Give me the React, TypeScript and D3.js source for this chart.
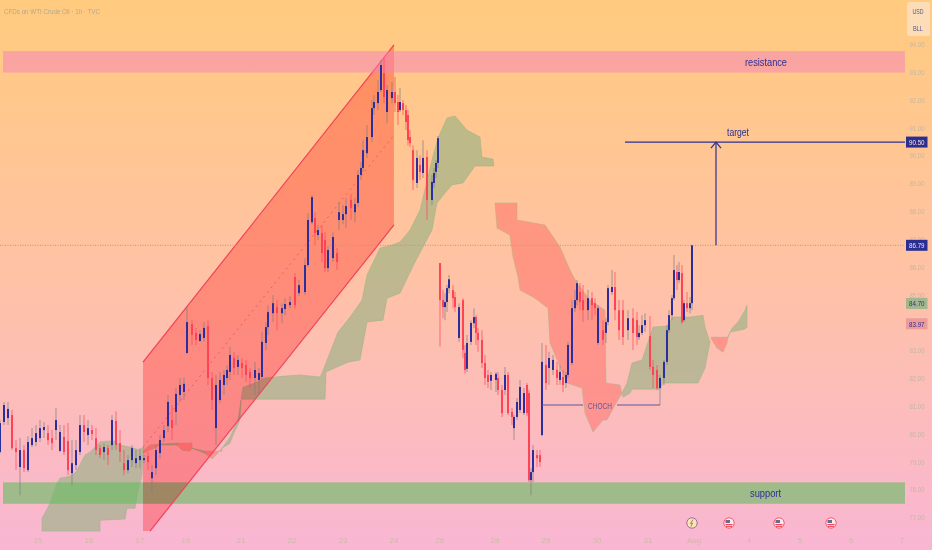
// App.tsx - WTI crude 1h chart with channel, cloud and zones
import React from 'react';
import * as d3 from 'd3';

const width = 932;
const height = 550;

// bar position along the time axis
const barTimes = [
  0, 2, 4, 6, 8, 10, 12, 14, 16, 18,
  20, 22, 24, 26, 28, 30, 32, 34, 36, 38,
  40, 42, 44, 46, 48, 50, 52, 54, 56, 58,
  60, 62, 64, 66, 68, 70, 72, 74, 76, 78,
  80, 82, 84, 86, 88, 90, 92, 93.5, 96, 98,
  100, 102, 104, 106, 108, 110, 112, 113.5, 115, 117,
  119, 121, 123, 125, 127.5, 129.5, 131, 133, 134, 136.5,
  138.5, 141, 142.5, 145, 147.5, 149.5, 152.5, 154, 156, 157.5,
  159, 161, 162.5, 164, 166.5, 168.5, 169.5, 171.5, 173, 175.5,
  177.5, 179, 180.5, 181.5, 183.5, 186, 187, 189, 190.5, 192,
  193.5, 196, 197.5, 199, 200, 201.5, 203, 204, 205, 206.5,
  208.5, 210, 211.5, 213.5, 216, 217, 218, 219, 220, 221.5,
  222.5, 223.5, 224.5, 226.5, 227.5, 229.5, 231.5, 232.5, 233.5, 235.5,
  237, 238, 239, 241, 242.5, 244, 245.5, 248, 249, 251,
  252.5, 254, 256, 257, 258.5, 260, 262, 263.5, 264.5, 265.5,
  266.5, 268.5, 270, 271, 273, 274.5, 276.5, 278.5, 280, 281.5,
  283, 284, 286, 287.5, 288.5, 290, 291.5, 294, 296, 297.5,
  299, 301.5, 303, 304, 306, 307.5, 309.5, 311.5, 314, 316.5,
  318.5, 319.5, 321, 322.5, 325, 326.5, 328.5, 330, 332, 333.5,
  334.5, 336, 337, 338.5, 339.5, 341, 342, 343.5, 345, 346,
];

const opens = [
  79.36, 80.44, 80.58, 80.69, 79.5, 78.82, 79.43, 78.71, 79.61, 79.72,
  79.86, 80.15, 80.04, 79.86, 80.15, 79.4, 79.9, 79.75, 78.6, 78.89,
  79.36, 80.33, 79.97, 80.15, 79.86, 79.5, 79.36, 79.5, 79.61, 80.48,
  79.68, 78.96, 78.71, 79.07, 78.96, 79.07, 79.07, 79.22, 78.42, 78.78,
  79.32, 79.86, 80.29, 80.51, 80.8, 81.41, 81.52, 82.92, 83.96, 83.64,
  83.35, 83.46, 83.89, 82.02, 80.22, 81.23, 81.77, 82.02, 82.24, 82.74,
  82.42, 82.56, 82.49, 82.24, 82.02, 81.95, 82.06, 83.28, 83.85, 84.35,
  84.57, 84.35, 84.5, 84.64, 85.65, 85.07, 85.11, 86.08, 87.62, 87.77,
  87.16, 87.23, 86.98, 85.97, 86.33, 86.51, 87.7, 87.7, 87.91, 88.42,
  87.98, 88.31, 89.32, 89.57, 90.1, 90.68, 91.72, 91.9, 92.37, 92.98,
  91.58, 92.08, 92.3, 91.94, 91.65, 91.9, 91.65, 91.47, 90.68, 90.21,
  89.03, 89.68, 89.39, 89.96, 88.42, 89.03, 89.43, 89.75, 86.15, 84.82,
  84.57, 84.75, 85.25, 85.18, 84.93, 83.46, 84.82, 82.92, 82.35, 83.32,
  83.99, 84.21, 83.64, 83.39, 82.56, 82.13, 81.92, 81.95, 82.02, 81.59,
  81.59, 82.13, 80.8, 80.22, 80.62, 80.87, 80.76, 81.77, 81.48, 78.35,
  78.64, 79.25, 79.25, 79.97, 82.49, 82.38, 82.31, 82.31, 81.95, 82.06,
  81.84, 82.13, 82.56, 84.53, 84.82, 85.11, 84.82, 84.46, 84.89, 84.71,
  83.28, 83.74, 83.64, 84.03, 85.11, 85.29, 84.46, 84.46, 83.74, 84.17,
  84.1, 83.49, 83.64, 83.92, 83.53, 82.42, 82.31, 81.66, 82.02, 82.6,
  83.74, 84.28, 84.89, 85.83, 85.54, 85.79, 84.1, 84.71, 84.53, 84.71,
];

const closes = [
  80.4, 81.05, 80.91, 79.5, 79.36, 79.43, 78.78, 79.72, 79.86, 80.04,
  80.22, 80.26, 79.79, 79.68, 80.51, 80.08, 79.36, 78.71, 78.96, 79.43,
  80.33, 80.08, 80.22, 80.01, 79.43, 79.25, 79.54, 79.25, 80.51, 79.61,
  79.36, 78.71, 79.07, 79.5, 79.14, 79.22, 79.14, 79.0, 78.64, 79.43,
  79.79, 80.15, 81.16, 80.22, 81.45, 81.77, 81.81, 84.03, 83.57, 83.39,
  83.6, 83.82, 82.02, 81.23, 81.77, 81.95, 82.13, 82.31, 82.85, 82.38,
  82.67, 82.38, 82.13, 82.02, 82.31, 82.2, 83.32, 83.85, 84.39, 84.71,
  84.35, 84.53, 84.68, 84.75, 84.64, 85.36, 86.08, 87.7, 88.52, 87.23,
  87.34, 86.51, 85.97, 86.62, 87.09, 86.19, 87.98, 87.91, 88.2, 88.13,
  88.27, 89.32, 89.57, 90.21, 90.68, 91.72, 91.94, 92.3, 93.27, 92.12,
  92.37, 92.3, 91.9, 91.58, 91.94, 91.65, 91.22, 90.57, 90.46, 89.14,
  89.93, 89.43, 89.93, 88.42, 89.07, 89.39, 89.75, 90.64, 84.82, 84.57,
  84.75, 85.25, 85.57, 84.89, 84.57, 84.57, 83.03, 82.31, 83.28, 84.0,
  84.21, 83.64, 83.39, 82.56, 82.02, 81.88, 82.13, 82.17, 81.59, 80.76,
  82.13, 80.76, 80.62, 80.62, 81.16, 81.7, 81.48, 80.76, 78.35, 78.64,
  79.43, 79.14, 79.0, 82.6, 81.84, 82.74, 82.67, 82.02, 82.24, 81.77,
  82.13, 83.21, 84.53, 84.82, 85.43, 84.75, 84.46, 84.89, 84.64, 84.53,
  84.53, 83.39, 84.03, 85.25, 85.29, 84.46, 83.74, 83.49, 84.17, 83.64,
  83.49, 83.64, 83.92, 84.1, 82.42, 82.13, 81.66, 82.02, 82.6, 83.74,
  84.28, 84.89, 85.9, 85.54, 85.83, 84.03, 84.71, 84.53, 84.71, 86.79,
];

const highs = [
  80.51, 81.16, 81.16, 80.87, 79.79, 79.86, 79.61, 79.93, 80.22, 80.33,
  80.51, 80.44, 80.33, 80.15, 80.94, 80.33, 80.33, 80.4, 79.79, 79.79,
  80.69, 80.69, 80.51, 80.33, 80.22, 79.61, 79.68, 79.61, 80.69, 80.83,
  80.15, 79.43, 79.25, 79.61, 79.43, 79.5, 79.25, 79.36, 78.89, 79.61,
  79.97, 80.33, 81.41, 81.05, 81.66, 82.02, 82.02, 84.61, 84.1, 83.82,
  83.74, 84.03, 84.1, 82.24, 82.13, 82.24, 82.31, 82.49, 83.14, 82.96,
  82.85, 82.74, 82.67, 82.38, 82.6, 82.38, 83.67, 84.03, 84.64, 85.0,
  84.82, 84.71, 84.89, 84.96, 85.79, 85.54, 86.33, 87.95, 88.6, 87.98,
  87.52, 87.52, 87.26, 86.76, 87.26, 86.69, 88.35, 88.24, 88.49, 88.63,
  88.49, 89.5, 89.78, 90.57, 91.11, 92.01, 92.19, 92.73, 93.45, 93.52,
  92.55, 92.66, 92.84, 92.19, 92.44, 92.01, 91.83, 91.65, 90.93, 90.39,
  90.21, 90.03, 90.57, 90.21, 89.32, 89.57, 89.86, 90.72, 86.15, 85.18,
  85.07, 85.36, 85.72, 85.36, 85.11, 84.71, 84.89, 83.21, 83.57, 84.1,
  84.53, 84.28, 83.82, 83.74, 82.85, 82.31, 82.24, 82.24, 82.24, 81.77,
  82.42, 82.24, 80.94, 80.69, 81.3, 81.95, 81.66, 81.84, 81.59, 78.78,
  79.61, 79.43, 79.43, 83.28, 83.21, 82.96, 82.85, 82.6, 82.49, 82.31,
  82.24, 83.32, 84.82, 85.18, 85.54, 85.43, 85.36, 85.18, 85.11, 84.89,
  84.64, 84.1, 84.17, 85.36, 85.9, 85.83, 84.82, 84.82, 84.46, 84.53,
  84.39, 83.92, 84.28, 84.35, 84.25, 82.67, 82.49, 82.13, 82.67, 83.92,
  84.46, 85.0, 86.44, 86.08, 86.19, 86.08, 84.82, 85.11, 84.93, 86.79,
];

const lows = [
  79.32, 80.33, 80.33, 79.43, 78.71, 77.81, 78.64, 78.64, 79.54, 79.57,
  79.72, 79.86, 79.61, 79.43, 79.79, 79.36, 79.25, 78.53, 78.17, 78.71,
  79.25, 79.72, 79.61, 79.79, 79.25, 79.14, 79.07, 78.89, 79.43, 79.43,
  79.0, 78.53, 78.6, 78.82, 78.78, 78.78, 78.96, 78.71, 77.88, 78.53,
  79.14, 79.72, 80.08, 79.79, 80.33, 81.16, 81.23, 82.88, 83.21, 83.21,
  83.32, 83.32, 81.77, 80.87, 79.61, 81.12, 81.41, 81.77, 81.95, 82.13,
  82.13, 82.02, 81.88, 81.66, 81.41, 81.41, 81.95, 83.03, 83.57, 84.03,
  83.74, 83.99, 84.28, 84.53, 84.53, 84.96, 85.0, 86.01, 87.55, 86.8,
  86.98, 86.19, 85.83, 85.83, 86.19, 85.9, 87.34, 87.55, 87.41, 87.7,
  87.62, 88.17, 89.14, 89.43, 89.93, 90.5, 91.47, 91.65, 92.3, 91.9,
  91.18, 91.9, 91.58, 91.11, 91.58, 91.47, 90.93, 90.39, 90.32, 88.78,
  88.85, 89.14, 89.21, 87.7, 88.24, 88.85, 89.21, 89.57, 83.14, 84.17,
  84.1, 84.39, 85.07, 84.53, 84.39, 83.32, 82.74, 82.17, 82.24, 83.21,
  83.82, 83.21, 82.96, 82.38, 81.77, 81.66, 81.59, 81.52, 81.41, 80.62,
  81.41, 80.69, 80.33, 79.79, 80.51, 80.76, 80.69, 80.65, 78.28, 77.81,
  78.28, 78.82, 78.82, 79.93, 81.59, 81.77, 82.13, 81.77, 81.77, 81.52,
  81.66, 82.02, 82.49, 84.39, 84.64, 84.46, 84.03, 84.1, 84.1, 84.28,
  83.21, 83.21, 83.28, 83.92, 85.0, 84.1, 83.39, 83.21, 83.39, 83.03,
  83.21, 83.39, 83.57, 83.67, 82.31, 81.66, 81.59, 81.05, 81.77, 82.49,
  83.64, 84.1, 84.82, 85.18, 85.43, 83.96, 84.03, 84.39, 84.35, 84.46,
];

// ichimoku cloud pieces, [time, price]
const greenLeftTop = [[21, 76.97], [25, 77.52], [28.5, 78.24], [30, 78.42], [35, 78.49], [38, 78.64], [42.5, 79.25], [45, 79.36], [50, 79.72], [52.5, 79.75], [57.5, 79.75], [60, 79.61], [65, 79.54], [70, 79.43], [71.5, 79.54]];
const greenLeftBottom = [[21, 76.52], [50, 76.52], [50, 76.91], [62.5, 76.95], [63.5, 77.34], [67.5, 77.34], [69, 77.99], [71, 78.53], [71.5, 79.43]];
const redThinATop = [[71.5, 79.39], [75, 79.61], [80, 79.65]];
const redThinABottom = [[71.5, 79.32], [75, 79.43], [80, 79.61]];
const greenThinATop = [[80, 79.65], [88.5, 79.68]];
const greenThinABottom = [[80, 79.61], [88.5, 79.61]];
const redThinBTop = [[88.5, 79.68], [96, 79.68]];
const redThinBBottom = [[88.5, 79.61], [91, 79.43], [95, 79.39], [96, 79.5]];
const greenThinBTop = [[96, 79.5], [102.5, 79.39]];
const greenThinBBottom = [[96, 79.5], [102.5, 79.32]];
const redThinCTop = [[102.5, 79.39], [111, 79.39]];
const redThinCBottom = [[102.5, 79.32], [106, 79.11], [108, 79.25], [111, 79.5]];
const greenRiseTop = [[111, 79.5], [115, 79.9], [119, 80.51], [120.5, 81.23]];
const greenRiseBottom = [[111, 79.5], [115, 79.68], [116.5, 79.97], [120, 80.51], [120.5, 81.23]];
const greenMainTop = [[120.5, 81.26], [121.5, 81.69], [127.5, 81.84], [132.5, 82.02], [142.5, 82.09], [150, 82.13], [160, 82.06], [161, 82.2], [169, 83.67], [175, 84.21], [181, 84.82], [183.5, 85.72], [190, 86.69], [196, 86.8], [200, 86.91], [205, 87.34], [210, 88.06], [216, 89.86], [219, 90.65], [223.5, 91.37], [227.5, 91.44], [233.5, 90.93], [240, 90.68], [241, 89.96], [246.5, 89.89], [247, 89.64]];
const greenMainBottom = [[120.5, 81.26], [162.5, 81.26], [163, 82.24], [174, 82.59], [180, 82.67], [183.5, 84.03], [191.5, 84.1], [193.5, 84.89], [200, 85.07], [207.5, 86.19], [216, 87.34], [218.5, 88.31], [222.5, 88.67], [226, 88.96], [231.5, 89.03], [237.5, 89.64], [247, 89.64]];
const redMainTop = [[247.5, 88.31], [258.5, 88.31], [258.5, 87.7], [272.5, 87.52], [280, 86.73], [285, 85.9], [288.5, 85.43], [295, 84.82], [302.5, 84.46], [303, 81.84], [310, 81.77], [311, 81.48]];
const redMainBottom = [[247.5, 88.31], [248.5, 87.41], [255, 87.16], [256.5, 86.37], [259, 85.65], [260, 85.18], [267.5, 84.89], [274, 84.53], [275, 83.28], [276.5, 83.03], [283.5, 81.84], [291, 81.66], [292.5, 80.76], [296.5, 80.08], [301.5, 80.51], [303.5, 80.51], [307.5, 81.05], [311, 81.48]];
const greenRightTop = [[311, 81.48], [313.5, 81.84], [316, 82.56], [321, 82.67], [326.5, 83.85], [333.5, 83.89], [336.5, 84.21], [345, 84.21], [351.5, 84.28], [352.5, 83.85], [355, 83.31]];
const greenRightBottom = [[311, 81.48], [311.5, 81.33], [315, 81.48], [316, 81.62], [330, 81.62], [331.5, 81.84], [349, 81.84], [352.5, 82.38], [355, 83.31]];
const redSmallTop = [[355.5, 83.49], [364, 83.49]];
const redSmallBottom = [[356, 83.39], [358.5, 83.1], [361.5, 82.95], [363.5, 83.28], [364, 83.49]];
const greenEndTop = [[364, 83.49], [366, 83.81], [369, 84.03], [372.5, 84.46], [373.5, 84.64]];
const greenEndBottom = [[364, 83.49], [365, 83.67], [372.5, 83.78], [373.5, 83.85]];

const greenClouds = [
  [greenLeftTop, greenLeftBottom], [greenThinATop, greenThinABottom], [greenThinBTop, greenThinBBottom],
  [greenRiseTop, greenRiseBottom], [greenMainTop, greenMainBottom], [greenRightTop, greenRightBottom], [greenEndTop, greenEndBottom],
];
const redClouds = [
  [redThinATop, redThinABottom], [redThinBTop, redThinBBottom], [redThinCTop, redThinCBottom],
  [redMainTop, redMainBottom], [redSmallTop, redSmallBottom],
];

// rising channel, [time, price]
const channelOutline = [[71.5, 82.59], [197, 93.99], [197, 87.52], [75, 76.52], [71.5, 76.52]];
const channelUpper = [[71.5, 82.59], [197, 93.99]];
const channelLower = [[75, 76.52], [197, 87.52]];
const channelMiddle = [[71.5, 79.54], [197, 90.75]];

const priceTicks = [94, 93, 92, 91, 90, 89, 88, 87, 86, 85, 84, 83, 82, 81, 80, 79, 78, 77];
const timeTickLabels = ['15', '16', '17', '19', '21', '22', '23', '24', '26', '28', '29', '30', '31', 'Aug', '4', '5', '6', '7'];
const timeTickValues = [19, 44.5, 70, 93, 120.5, 146, 171.5, 197, 220, 247.5, 273, 298.5, 324, 347, 374.5, 400, 425.5, 451];

const resistanceZone = { from: 1.5, to: 452.5, top: 93.77, bottom: 93.0 };
const supportZone = { from: 1.5, to: 452.5, top: 78.27, bottom: 77.5 };
const targetPrice = 90.5;
const lastPrice = 86.79;
const spanAPrice = 84.7;
const spanBPrice = 83.97;
const chochPrice = 81.05;
const eventTimes = [346, 364.5, 389.5, 415.5];

const navy = '#2b2f92';
const labelFont = '"Liberation Sans", Arial, sans-serif';

const App: React.FC = () => {
  const x = d3.scaleLinear().domain([0, 466]).range([0, width]);
  const y = d3.scaleLinear().domain([94, 77]).range([44.7, 517.7]);

  const line = d3.line<number[]>().x(d => x(d[0])).y(d => y(d[1]));
  const cloudPath = (top: number[][], bottom: number[][]) =>
    line([...top, ...[...bottom].reverse()]) + 'Z';

  const axisRight = 905;
  const priceTag = (price: number, fill: string, textFill: string) => (
    <g key={price}>
      <rect x={906} y={y(price) - 5.5} width={21.5} height={11} fill={fill} />
      <text x={916.8} y={y(price) + 2.8} fontSize={8} textLength={15.5} lengthAdjust="spacingAndGlyphs" textAnchor="middle" fill={textFill} fontFamily={labelFont}>
        {price.toFixed(2)}
      </text>
    </g>
  );

  return (
    <svg width={width} height={height} style={{ position: 'absolute', left: 0, top: 0 }}>
      <defs>
        <linearGradient id="bg" x1="0" y1="0" x2="0" y2="1">
          <stop offset="0" stopColor="#ffcb7e" />
          <stop offset="0.5" stopColor="#ffc2a5" />
          <stop offset="1" stopColor="#f9b6d3" />
        </linearGradient>
      </defs>
      <rect width={width} height={height} fill="url(#bg)" />

      <text x={4} y={14} fontSize={8} textLength={96} lengthAdjust="spacingAndGlyphs" fill="#b3a88f" fontFamily={labelFont}>CFDs on WTI Crude Oil · 1h · TVC</text>

      {/* price axis labels */}
      {priceTicks.map(p => (
        <text key={p} x={917} y={y(p) + 2.5} fontSize={7.5} textLength={15} lengthAdjust="spacingAndGlyphs" textAnchor="middle" fill="#c4b7a2" fontFamily={labelFont}>
          {p.toFixed(2)}
        </text>
      ))}

      {/* time axis labels */}
      {timeTickValues.map((t, i) => (
        <text key={t} x={x(t)} y={543} fontSize={8} textAnchor="middle" fill="#cdb9a8" fontFamily={labelFont}>
          {timeTickLabels[i]}
        </text>
      ))}

      {/* cloud */}
      {greenClouds.map(([top, bottom], i) => (
        <path key={i} d={cloudPath(top, bottom)} fill="rgb(147,177,130)" fillOpacity={0.6} stroke="rgb(150,180,130)" strokeOpacity={0.6} strokeWidth={0.8} />
      ))}
      {redClouds.map(([top, bottom], i) => (
        <path key={i} d={cloudPath(top, bottom)} fill="rgb(255,106,100)" fillOpacity={0.5} stroke="rgb(170,180,130)" strokeOpacity={0.6} strokeWidth={0.8} />
      ))}

      {/* support sits under the channel, resistance over it */}
      <rect x={x(supportZone.from)} width={x(supportZone.to) - x(supportZone.from)} y={y(supportZone.top)} height={y(supportZone.bottom) - y(supportZone.top)} fill="rgb(100,188,97)" fillOpacity={0.6} />

      {/* channel */}
      <path d={line(channelOutline) + 'Z'} fill="rgb(255,184,184)" style={{ mixBlendMode: 'multiply' }} />
      <path d={line(channelUpper) || ''} fill="none" stroke="#f2405a" strokeWidth={1.2} />
      <path d={line(channelLower) || ''} fill="none" stroke="#f2405a" strokeWidth={1.2} />
      <path d={line(channelMiddle) || ''} fill="none" stroke="#f2405a" strokeWidth={1} strokeDasharray="2 4" opacity={0.7} />

      <rect x={x(resistanceZone.from)} width={x(resistanceZone.to) - x(resistanceZone.from)} y={y(resistanceZone.top)} height={y(resistanceZone.bottom) - y(resistanceZone.top)} fill="rgb(246,128,190)" fillOpacity={0.5} />

      {/* last price line */}
      <line x1={0} x2={axisRight} y1={y(lastPrice)} y2={y(lastPrice)} stroke="#a99c94" strokeWidth={1} strokeDasharray="1 1.5" />

      {/* candles */}
      {barTimes.map((t, i) => {
        const up = closes[i] >= opens[i];
        const top = y(Math.max(opens[i], closes[i]));
        const bottom = y(Math.min(opens[i], closes[i]));
        return (
          <g key={i}>
            <line x1={x(t)} x2={x(t)} y1={y(highs[i])} y2={y(lows[i])} stroke={up ? 'rgb(125,125,130)' : 'rgb(255,70,90)'} strokeOpacity={0.5} strokeWidth={1.4} />
            <rect x={x(t) - 1} y={top} width={2} height={Math.max(bottom - top, 1)} fill={up ? '#2b2f9e' : '#ff4357'} />
          </g>
        );
      })}

      <text x={766} y={y(93.38) + 4} fontSize={11} textLength={42} lengthAdjust="spacingAndGlyphs" textAnchor="middle" fill={navy} fontFamily={labelFont}>resistance</text>
      <text x={765.5} y={y(77.88) + 4} fontSize={11} textLength={31} lengthAdjust="spacingAndGlyphs" textAnchor="middle" fill={navy} fontFamily={labelFont}>support</text>

      {/* target */}
      <line x1={625} x2={axisRight} y1={y(targetPrice)} y2={y(targetPrice)} stroke={navy} strokeWidth={1.4} />
      <line x1={716} x2={716} y1={y(lastPrice)} y2={y(targetPrice)} stroke={navy} strokeWidth={1.2} />
      <path d={`M711,${y(targetPrice) + 6} L716,${y(targetPrice)} L721,${y(targetPrice) + 6}`} fill="none" stroke={navy} strokeWidth={1.2} />
      <text x={738} y={136} fontSize={10} textLength={22} lengthAdjust="spacingAndGlyphs" textAnchor="middle" fill={navy} fontFamily={labelFont}>target</text>

      {/* choch */}
      <line x1={542} x2={583} y1={y(chochPrice)} y2={y(chochPrice)} stroke="#5a5a9e" strokeWidth={1.1} />
      <line x1={617} x2={660} y1={y(chochPrice)} y2={y(chochPrice)} stroke="#5a5a9e" strokeWidth={1.1} />
      <text x={600} y={y(chochPrice) + 3.5} fontSize={9} textLength={24} lengthAdjust="spacingAndGlyphs" textAnchor="middle" fill="#5a5a9e" fontFamily={labelFont}>CHOCH</text>

      {/* event markers */}
      {eventTimes.map((t, i) => (
        i === 0 ? (
          <g key={t}>
            <circle cx={x(t)} cy={523} r={5.2} fill="#fde3b4" stroke="#7a5aa0" strokeWidth={0.8} />
            <path d={`M${x(t) + 1},519.5 L${x(t) - 1.5},523.5 L${x(t) + 0.5},523 L${x(t) - 1},526.5`} fill="none" stroke="#8a6a50" strokeWidth={0.8} />
          </g>
        ) : (
          <g key={t}>
            <circle cx={x(t)} cy={523} r={5.2} fill="#fbe8e8" stroke="#f0505f" strokeWidth={0.9} />
            <rect x={x(t) - 3.5} y={524} width={7} height={1.2} fill="#ee4455" />
            <rect x={x(t) - 3} y={526} width={6} height={0.9} fill="#ee4455" />
            <rect x={x(t) - 3.5} y={520} width={4.5} height={3} fill="#6a6a90" />
          </g>
        )
      ))}

      {/* value tags */}
      {priceTag(targetPrice, navy, '#ffe3dc')}
      {priceTag(lastPrice, navy, '#ffe3dc')}
      {priceTag(spanAPrice, '#a3b78f', navy)}
      {priceTag(spanBPrice, '#ee9a9a', navy)}

      {/* currency box */}
      <rect x={907} y={2} width={23} height={34} rx={2} fill="#fddcb8" />
      <text x={918} y={13.5} fontSize={8} textLength={11} lengthAdjust="spacingAndGlyphs" textAnchor="middle" fill="#55558a" fontFamily={labelFont}>USD</text>
      <text x={918} y={30.5} fontSize={8} textLength={10} lengthAdjust="spacingAndGlyphs" textAnchor="middle" fill="#55558a" fontFamily={labelFont}>BLL</text>
    </svg>
  );
};

export default App;
